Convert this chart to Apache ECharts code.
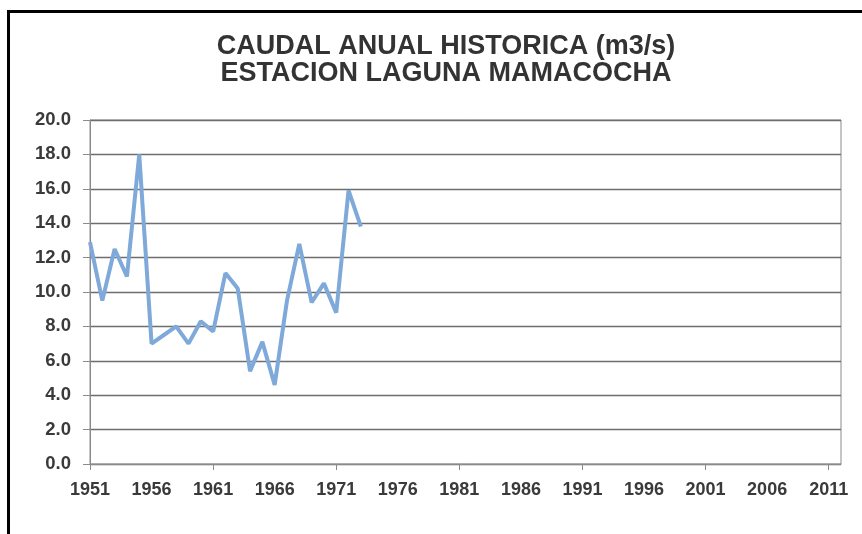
<!DOCTYPE html>
<html>
<head>
<meta charset="utf-8">
<script src="https://cdn.jsdelivr.net/npm/echarts@6/dist/echarts.min.js"></script>
<style>
html,body{margin:0;padding:0;background:#fff;}
#c{width:862px;height:534px;}
</style>
</head>
<body>
<div id="c"></div>
<script>
// Years on the category axis (1951-2012)
const years = [];
for (let y = 1951; y <= 2012; y++) years.push(String(y));
// Annual discharge (m3/s), 1951-1973
const caudal = [12.9, 9.5, 12.5, 10.9, 18.0, 7.0, 7.5, 8.0, 7.0, 8.3, 7.7, 11.1, 10.2, 5.4, 7.1, 4.6, 9.5, 12.8, 9.4, 10.5, 8.8, 15.9, 13.8];
const titleLines = ['CAUDAL ANUAL HISTORICA (m3/s)', 'ESTACION LAGUNA MAMACOCHA'];

const chart = echarts.init(document.getElementById('c'), null, {renderer: 'canvas'});
const font = "'Liberation Sans', Arial, sans-serif";
chart.setOption({
  animation: false,
  backgroundColor: '#fff',
  title: {
    text: titleLines.join('\n'),
    left: 441, top: 28, textAlign: 'center',
    textStyle: {fontFamily: font, fontWeight: 'bold', fontSize: 27, color: '#333', lineHeight: 27}
  },
  graphic: [
    {type: 'line', shape: {x1: 8.5, y1: 10, x2: 8.5, y2: 534}, style: {stroke: '#000', lineWidth: 3}},
    {type: 'line', shape: {x1: 7, y1: 11.5, x2: 862, y2: 11.5}, style: {stroke: '#000', lineWidth: 3}}
  ],
  grid: {left: 90, right: 21, top: 120, bottom: 70, show: true, borderColor: '#8a8a8a', borderWidth: 1},
  xAxis: {
    type: 'category', data: years, boundaryGap: false,
    axisLine: {lineStyle: {color: '#8a8a8a', width: 1}},
    axisTick: {interval: 9, length: 6, lineStyle: {color: '#8a8a8a'}},
    axisLabel: {interval: 4, margin: 17, fontFamily: font, fontWeight: 'bold', fontSize: 18, color: '#3a3a3a'},
    splitLine: {show: false}
  },
  yAxis: {
    type: 'value', min: 0, max: 20, interval: 2,
    axisLine: {show: true, lineStyle: {color: '#8a8a8a', width: 1}},
    axisTick: {show: true, length: 7, lineStyle: {color: '#8a8a8a'}},
    axisLabel: {margin: 19, fontFamily: font, fontWeight: 'bold', fontSize: 18.5, color: '#3a3a3a', formatter: v => v.toFixed(1)},
    splitLine: {lineStyle: {color: '#6e6e6e', width: 1.3}}
  },
  series: [{
    type: 'line', data: caudal, symbol: 'none',
    lineStyle: {color: '#7ea9d9', width: 4}
  }]
});
</script>
</body>
</html>
